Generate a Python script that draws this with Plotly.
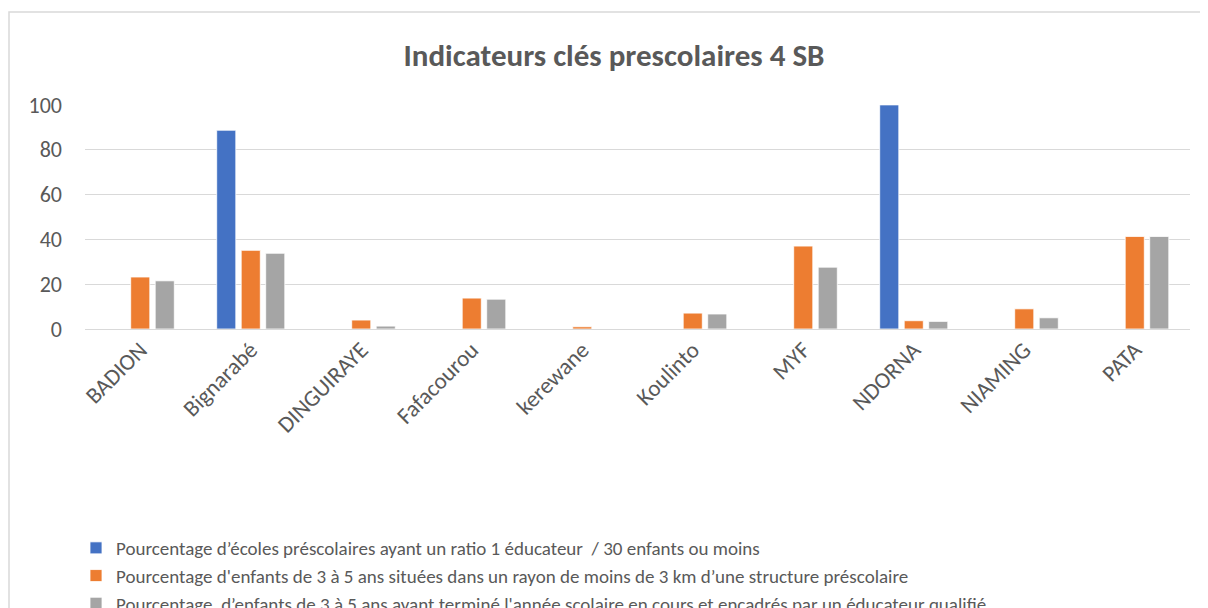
import plotly.graph_objects as go

categories = ["BADION", "Bignarabé", "DINGUIRAYE", "Fafacourou", "kerewane",
              "Koulinto", "MYF", "NDORNA", "NIAMING", "PATA"]

series_names = [
    "Pourcentage d’écoles préscolaires ayant un ratio 1 éducateur  / 30 enfants ou moins",
    "Pourcentage d'enfants de 3 à 5 ans situées dans un rayon de moins de 3 km d’une structure préscolaire",
    "Pourcentage  d’enfants de 3 à 5 ans ayant terminé l'année scolaire en cours et encadrés par un éducateur qualifié",
]
ratio_educateur = [0, 88.7, 0, 0, 0, 0, 0, 100, 0, 0]
rayon_3km = [23.2, 35.1, 4.0, 13.8, 1.0, 7.1, 37.0, 3.7, 9.0, 41.3]
educateur_qualifie = [21.5, 33.8, 1.3, 13.3, 0, 6.7, 27.6, 3.4, 5.0, 41.3]

colors = ["#4472C4", "#ED7D31", "#A5A5A5"]
FONT = "Carlito, Liberation Sans, Arial, sans-serif"
TXT = "#595959"

fig = go.Figure()
for name, vals, col in zip(series_names, [ratio_educateur, rayon_3km, educateur_qualifie], colors):
    fig.add_trace(go.Bar(x=categories, y=vals, name=name,
                         marker=dict(color=col, line=dict(color="white", width=0.8))))

# page body has an 8px margin: work in screen pixels minus offset
OFF = 8
W, H = 1208 - OFF, 608 - OFF
L, R, T, B = 85 - OFF, 18, 104 - OFF, 608 - 329
pw, ph = W - L - R, H - T - B

def px_x(px):
    return (px - OFF - L) / pw

def px_y(py):
    return (H - B - (py - OFF)) / ph

fig.add_shape(type="rect", xref="paper", yref="paper",
              x0=px_x(9), x1=px_x(1230), y0=px_y(640), y1=px_y(12),
              line=dict(color="#d9d9d9", width=1.5), fillcolor="rgba(0,0,0,0)", layer="below")

fig.update_layout(
    width=W, height=H,
    margin=dict(l=L, r=R, t=T, b=B, autoexpand=False),
    paper_bgcolor="white", plot_bgcolor="white",
    barmode="group", bargap=0.335, bargroupgap=0.22,
    font=dict(family=FONT, color=TXT, size=19),
    title=dict(text="<b>Indicateurs clés prescolaires 4 SB</b>",
               x=(614 - OFF) / W, xref="container", xanchor="center",
               y=1 - (55 - OFF) / H, yref="container", yanchor="middle",
               font=dict(family=FONT, size=31, color=TXT)),
    xaxis=dict(tickangle=-45, showgrid=False, showline=False, ticks="",
               tickfont=dict(size=23, color=TXT), ticklabelstandoff=2),
    yaxis=dict(range=[0, 100.4], dtick=20, showgrid=True, gridcolor="#d9d9d9", gridwidth=1.2,
               zeroline=True, zerolinecolor="#d9d9d9", zerolinewidth=1.2,
               showline=False, ticks="", ticklabelstandoff=22,
               tickfont=dict(size=22, color=TXT)),
    legend=dict(orientation="v", xref="container", yref="container",
                x=(76 - OFF) / W, xanchor="left", y=1 - (529 - OFF) / H, yanchor="top",
                font=dict(size=19, color=TXT), tracegroupgap=0, itemwidth=30,
                bgcolor="rgba(0,0,0,0)"),
)

fig.write_html("out.html")
